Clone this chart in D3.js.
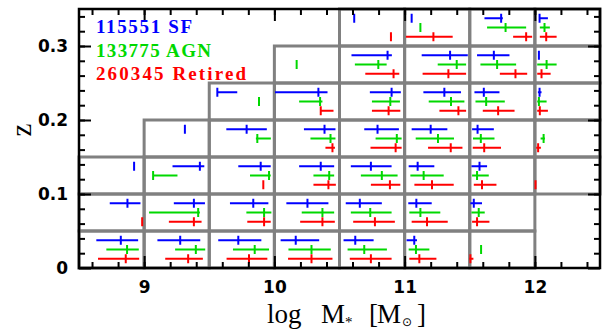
<!DOCTYPE html>
<html><head><meta charset="utf-8">
<script src="https://cdn.jsdelivr.net/npm/d3@7"></script>
<style>body{margin:0;background:#fff}svg{display:block}</style>
</head><body>
<svg id="c" width="603" height="331"></svg>
<script>
// ---- data: [zBin, lo, median, hi] in log M*
const sfData = [
 [0,8.633,8.821,8.954],[0,9.102,9.277,9.431],[0,9.569,9.723,9.9],[0,10.048,10.164,10.344],[0,10.531,10.621,10.762],[0,11.015,11.074,11.095],
 [0.05,8.736,8.872,8.972],[0.05,9.228,9.382,9.467],[0.05,9.659,9.838,9.954],[0.05,10.092,10.254,10.415],[0.05,10.548,10.656,10.825],[0.05,11.028,11.09,11.208],[0.05,11.505,11.531,11.594],
 [0.1,8.923,8.923,8.923],[0.1,9.218,9.428,9.462],[0.1,9.723,9.895,9.972],[0.1,10.19,10.356,10.459],[0.1,10.587,10.741,10.9],[0.1,11.031,11.1,11.228],[0.1,11.513,11.575,11.633],
 [0.15,9.313,9.313,9.313],[0.15,9.631,9.787,9.942],[0.15,10.227,10.385,10.469],[0.15,10.69,10.792,10.956],[0.15,11.054,11.2,11.328],[0.15,11.518,11.56,11.685],
 [0.2,9.562,9.562,9.715],[0.2,10.005,10.338,10.408],[0.2,10.733,10.9,10.971],[0.2,11.144,11.305,11.433],[0.2,11.536,11.608,11.728],[0.2,12.023,12.036,12.051],
 [0.25,10.592,10.869,10.902],[0.25,11.131,11.349,11.485],[0.25,11.556,11.685,11.805],[0.25,12.031,12.031,12.031],
 [0.3,10.613,10.613,10.613],[0.3,11.054,11.054,11.054],[0.3,11.613,11.741,11.754],[0.3,12.036,12.036,12.1]
];
const agnData = [
 [0,8.71,8.869,8.959],[0,9.238,9.397,9.469],[0,9.682,9.849,9.959],[0,10.108,10.285,10.433],[0,10.562,10.69,10.864],[0,11.031,11.087,11.19],[0,11.587,11.587,11.587],
 [0.05,9.038,9.415,9.428],[0.05,9.785,9.921,9.977],[0.05,10.21,10.369,10.459],[0.05,10.587,10.736,10.9],[0.05,11.036,11.121,11.274],[0.05,11.513,11.569,11.615],
 [0.1,9.069,9.069,9.256],[0.1,9.813,9.959,9.972],[0.1,10.3,10.421,10.459],[0.1,10.664,10.825,10.946],[0.1,11.044,11.146,11.3],[0.1,11.518,11.556,11.646],
 [0.15,9.858,9.869,9.973],[0.15,10.277,10.431,10.469],[0.15,10.777,10.94,10.977],[0.15,11.085,11.256,11.379],[0.15,11.525,11.585,11.69],[0.15,12.044,12.067,12.077],
 [0.2,9.882,9.882,9.882],[0.2,10.19,10.351,10.369],[0.2,10.749,10.89,10.964],[0.2,11.185,11.356,11.459],[0.2,11.544,11.626,11.769],[0.2,12.018,12.031,12.09],
 [0.25,10.171,10.171,10.171],[0.25,10.618,10.798,10.862],[0.25,11.254,11.4,11.472],[0.25,11.582,11.71,11.856],[0.25,12.018,12.09,12.167],
 [0.3,11.121,11.121,11.121],[0.3,11.633,11.775,11.933],[0.3,12.038,12.074,12.115]
];
const retData = [
 [0,8.646,8.859,8.962],[0,9.162,9.338,9.451],[0,9.633,9.805,9.946],[0,10.105,10.285,10.446],[0,10.579,10.741,10.9],[0,11.036,11.113,11.244],[0,11.497,11.505,11.528],
 [0.05,8.985,8.985,8.985],[0.05,9.19,9.382,9.441],[0.05,9.792,9.921,9.972],[0.05,10.198,10.369,10.464],[0.05,10.605,10.772,10.925],[0.05,11.054,11.172,11.331],[0.05,11.518,11.556,11.651],
 [0.1,9.915,9.915,9.915],[0.1,10.3,10.415,10.472],[0.1,10.741,10.887,10.967],[0.1,11.075,11.21,11.377],[0.1,11.531,11.594,11.705],[0.1,12.005,12.005,12.005],
 [0.15,10.392,10.446,10.465],[0.15,10.738,10.931,10.977],[0.15,11.18,11.354,11.444],[0.15,11.523,11.611,11.74],[0.15,12.01,12.025,12.046],
 [0.2,10.356,10.356,10.454],[0.2,10.749,10.877,10.967],[0.2,11.267,11.413,11.472],[0.2,11.6,11.718,11.844],[0.2,12.018,12.038,12.1],
 [0.25,10.698,10.915,10.959],[0.25,11.138,11.336,11.472],[0.25,11.731,11.851,11.941],[0.25,12.018,12.051,12.121],
 [0.3,10.888,10.895,10.902],[0.3,11.01,11.221,11.369],[0.3,11.833,11.933,11.979],[0.3,12.038,12.087,12.167]
];
// bins (grey boxes): z bin start, mass range covered by boxes in that z row
const binZ = [0, 0.05, 0.1, 0.15, 0.2, 0.25, 0.3];
const binMassMin = [8.5, 8.5, 8.5, 9.0, 9.5, 10.0, 10.5];
const binMassMax = [12.0, 12.0, 12.5, 12.5, 12.5, 12.5, 12.5];
const binDM = 0.5, binDZ = 0.05;
const legendLabels = ["115551 SF", "133775 AGN", "260345 Retired"];
const xMajor = [9, 10, 11, 12];
const yMajor = [0, 0.1, 0.2, 0.3];

// ---- drawing
const svg = d3.select("#c");
const x = d3.scaleLinear().domain([8.5, 12.5]).range([79, 600]);
const y = d3.scaleLinear().domain([0, 0.35]).range([268, 9]);

// boxes
const boxes = [];
binZ.forEach((z, i) => {
  for (let m = binMassMin[i]; m < binMassMax[i] - 1e-9; m += binDM) boxes.push({m, z});
});
svg.append("g").selectAll("rect").data(boxes).join("rect")
  .attr("x", d => x(d.m)).attr("y", d => y(d.z + binDZ))
  .attr("width", d => x(d.m + binDM) - x(d.m))
  .attr("height", d => y(d.z) - y(d.z + binDZ))
  .attr("fill", "none").attr("stroke", "#808080").attr("stroke-width", 3);

const series = [
  {data: sfData, color: "#0000ff", off: 0.0375},
  {data: agnData, color: "#00d800", off: 0.025},
  {data: retData, color: "#ff0000", off: 0.0125}
];
series.forEach(s => {
  const g = svg.append("g").attr("stroke", s.color).attr("stroke-width", 2);
  g.selectAll("line.h").data(s.data.filter(d => d[3] > d[1])).join("line").attr("class", "h")
    .attr("x1", d => x(d[1])).attr("x2", d => x(d[3]))
    .attr("y1", d => y(d[0] + s.off)).attr("y2", d => y(d[0] + s.off));
  g.selectAll("line.v").data(s.data).join("line").attr("class", "v")
    .attr("x1", d => x(d[2])).attr("x2", d => x(d[2]))
    .attr("y1", d => y(d[0] + s.off) - 4.5).attr("y2", d => y(d[0] + s.off) + 4.5);
});

// axes with inward ticks
const fontTick = "bold 17px 'DejaVu Sans', sans-serif";
function minorTicks(lo, hi, step) { const a = []; for (let v = lo; v <= hi + 1e-9; v += step) a.push(+v.toFixed(4)); return a; }
const xMinor = minorTicks(8.6, 12.4, 0.2);
const yMinor = minorTicks(0.02, 0.34, 0.02);
function styleAxis(g) { g.select(".domain").remove(); g.selectAll("line").attr("stroke", "#000").attr("stroke-width", 2); }

svg.append("g").attr("transform", "translate(0,268)")
  .call(d3.axisBottom(x).tickValues(xMinor).tickSize(-6).tickFormat("")).call(styleAxis);
svg.append("g").attr("transform", "translate(0,268)")
  .call(d3.axisBottom(x).tickValues(xMajor).tickSize(-12).tickPadding(13).tickFormat(d3.format("d"))).call(styleAxis)
  .selectAll("text").style("font", fontTick).attr("fill", "#000");
svg.append("g").attr("transform", "translate(0,9)")
  .call(d3.axisTop(x).tickValues(xMinor).tickSize(-6).tickFormat("")).call(styleAxis);
svg.append("g").attr("transform", "translate(0,9)")
  .call(d3.axisTop(x).tickValues(xMajor).tickSize(-12).tickFormat("")).call(styleAxis);

svg.append("g").attr("transform", "translate(79,0)")
  .call(d3.axisLeft(y).tickValues(yMinor).tickSize(-6).tickFormat("")).call(styleAxis);
svg.append("g").attr("transform", "translate(79,0)")
  .call(d3.axisLeft(y).tickValues(yMajor).tickSize(-12).tickPadding(11).tickFormat(d => d === 0 ? "0" : d3.format(".1f")(d))).call(styleAxis)
  .selectAll("text").style("font", fontTick).attr("fill", "#000");
svg.append("g").attr("transform", "translate(600,0)")
  .call(d3.axisRight(y).tickValues(yMinor).tickSize(-6).tickFormat("")).call(styleAxis);
svg.append("g").attr("transform", "translate(600,0)")
  .call(d3.axisRight(y).tickValues(yMajor).tickSize(-12).tickFormat("")).call(styleAxis);

// frame
svg.append("rect").attr("x", x(8.5)).attr("y", y(0.35))
  .attr("width", x(12.5) - x(8.5)).attr("height", y(0) - y(0.35))
  .attr("fill", "none").attr("stroke", "#000").attr("stroke-width", 2.5);

// legend
const legW = [96, 115, 150];
const legY = [33, 57, 80];
series.forEach((s, i) => {
  svg.append("text").attr("x", 96).attr("y", legY[i])
    .attr("textLength", legW[i]).attr("lengthAdjust", "spacing")
    .style("font", "bold 19px 'Liberation Serif', serif").attr("fill", s.color)
    .text(legendLabels[i]);
});

// axis titles (single text element with positioned tspans)
const xt = svg.append("text").style("font", "27px 'Liberation Serif', serif").attr("fill", "#000");
xt.append("tspan").attr("x", 267).attr("y", 323).text("log");
xt.append("tspan").attr("x", 321).attr("y", 323).text("M");
xt.append("tspan").attr("x", 345).attr("y", 327).style("font-size", "15px").text("*");
xt.append("tspan").attr("x", 369).attr("y", 323).text("[");
xt.append("tspan").attr("x", 377).attr("y", 323).text("M");
xt.append("tspan").attr("x", 402).attr("y", 326).style("font", "12px 'DejaVu Sans', sans-serif").text("\u2299");
xt.append("tspan").attr("x", 417).attr("y", 323).text("]");
svg.append("text").attr("transform", "translate(31,130) rotate(-90)").attr("text-anchor", "middle")
  .style("font", "29px 'Liberation Serif', serif").attr("fill", "#000").text("z");
</script>
</body></html>
